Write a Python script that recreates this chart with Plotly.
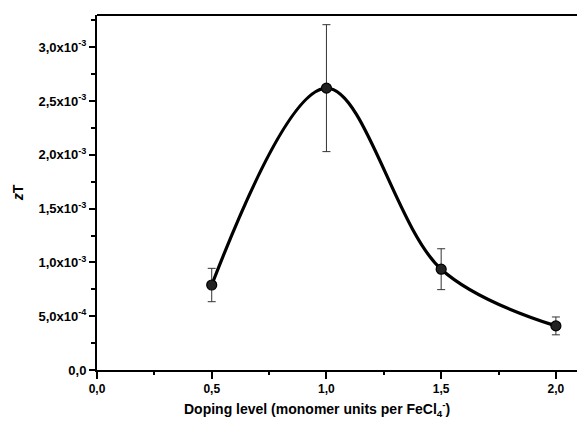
import plotly.graph_objects as go

doping = [0.5, 1.0, 1.5, 2.0]
zt = [0.79e-3, 2.62e-3, 0.937e-3, 0.41e-3]
zt_err = [0.155e-3, 0.59e-3, 0.19e-3, 0.083e-3]

x_tickvals = [0.0, 0.5, 1.0, 1.5, 2.0]
x_ticktext = ["0,0", "0,5", "1,0", "1,5", "2,0"]
y_tickvals = [0.0, 5e-4, 1e-3, 1.5e-3, 2e-3, 2.5e-3, 3e-3]
y_ticktext = ["0,0", "5,0x10<sup>-4</sup>", "1,0x10<sup>-3</sup>", "1,5x10<sup>-3</sup>",
              "2,0x10<sup>-3</sup>", "2,5x10<sup>-3</sup>", "3,0x10<sup>-3</sup>"]

font_family = "Liberation Sans, Arial, sans-serif"

fig = go.Figure()
fig.add_trace(go.Scatter(
    x=doping, y=zt, mode="lines",
    line=dict(color="black", width=3.2, shape="spline", smoothing=1.0),
    hoverinfo="skip", showlegend=False,
))
fig.add_trace(go.Scatter(
    x=doping, y=zt, mode="markers",
    marker=dict(size=10, color="#222222", line=dict(color="black", width=1.2)),
    error_y=dict(type="data", array=zt_err, visible=True, color="#333333",
                 thickness=1, width=4),
    showlegend=False,
))

fig.update_layout(
    width=577, height=428,
    margin=dict(l=97, r=0, t=15, b=58),
    paper_bgcolor="white", plot_bgcolor="white",
    font=dict(family=font_family, color="black"),
    xaxis=dict(
        range=[0, 2.092], tickvals=x_tickvals, ticktext=x_ticktext,
        showline=True, linecolor="black", linewidth=2, mirror=False,
        ticks="outside", ticklen=7, tickwidth=2, tickcolor="black",
        minor=dict(ticks="outside", ticklen=3, tickwidth=1.5, dtick=0.25, tick0=0, tickcolor="black"),
        showgrid=False, zeroline=False,
        tickfont=dict(size=12, family=font_family, weight="bold"),
    ),
    yaxis=dict(
        range=[0, 3.30e-3], tickvals=y_tickvals, ticktext=y_ticktext,
        showline=True, linecolor="black", linewidth=2, mirror=False,
        ticks="outside", ticklen=6, tickwidth=2, tickcolor="black",
        minor=dict(ticks="outside", ticklen=4, tickwidth=1.5, dtick=2.5e-4, tick0=0, tickcolor="black"),
        showgrid=False, zeroline=False,
        tickfont=dict(size=13, family=font_family, weight="bold"),
        title=dict(text="<i>z</i>T", font=dict(size=14, family=font_family, weight="bold"), standoff=12),
    ),
    annotations=[dict(
        text="Doping level (monomer units per FeCl<sub>4</sub><sup>-</sup>)",
        xref="paper", yref="paper", x=0.458, y=-0.11, xanchor="center", yanchor="middle",
        showarrow=False, font=dict(size=14, family=font_family, weight="bold", color="black"),
    )],
    shapes=[dict(type="line", xref="paper", yref="paper", x0=0, x1=1, y0=1, y1=1,
                 line=dict(color="black", width=2))],
)

fig.write_html("out.html")
